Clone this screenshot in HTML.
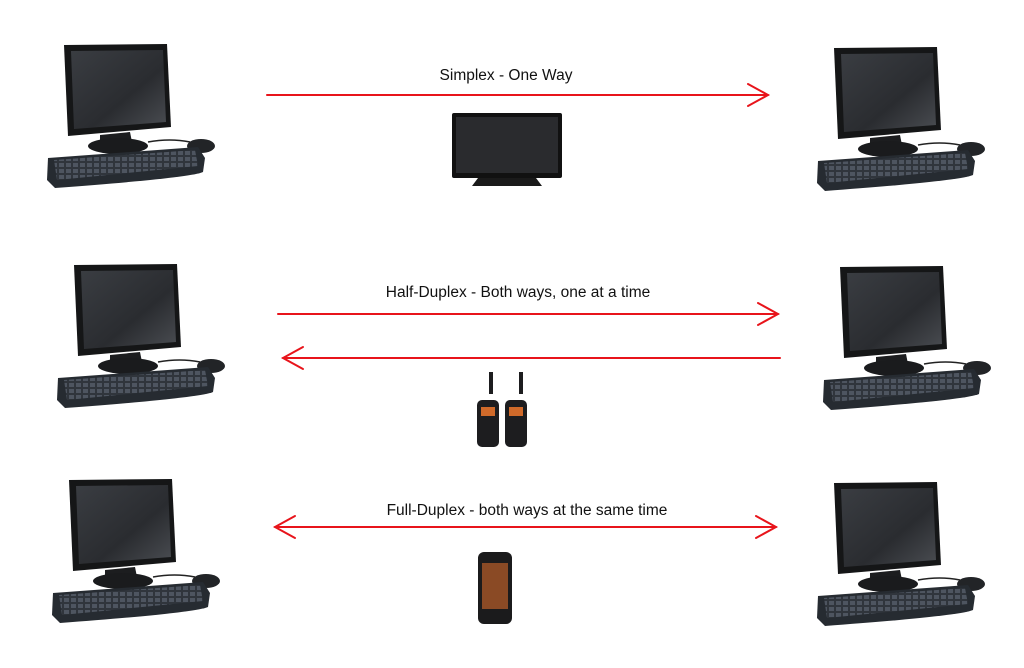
<!DOCTYPE html>
<html><head><meta charset="utf-8"><style>
html,body{margin:0;padding:0;background:#fff;}
svg{display:block;}
text{font-family:"Liberation Sans",sans-serif;font-size:15.5px;fill:#111;}
</style></head><body>
<svg width="1024" height="668" viewBox="0 0 1024 668" xmlns="http://www.w3.org/2000/svg">
<defs>
<linearGradient id="scr" x1="0" y1="0" x2="1" y2="1">
<stop offset="0" stop-color="#3a3d42"/><stop offset="0.6" stop-color="#2a2c30"/><stop offset="1" stop-color="#4a4d52"/>
</linearGradient>
<pattern id="keys" width="7" height="6" patternUnits="userSpaceOnUse">
<rect width="7" height="6" fill="#30353c"/><rect x="1" y="1" width="5" height="4" fill="#4e5560"/>
</pattern>
<g id="pc">
<path d="M34 15 L137 14 L141 97 L38 106 Z" fill="#151617"/>
<path d="M41 21 L133 20 L136 92 L44 99 Z" fill="url(#scr)"/>
<path d="M70 105 L100 102 L102 112 L70 114 Z" fill="#1c1d1f"/>
<ellipse cx="88" cy="116" rx="30" ry="8" fill="#1a1b1d"/>
<path d="M118 112 Q140 108 160 112" stroke="#222" stroke-width="1.5" fill="none"/>
<ellipse cx="171" cy="116" rx="14" ry="7" fill="#222427"/>
<path d="M18 128 L168 117 L175 128 L173 142 Q160 148 25 158 L17 150 Z" fill="#262b31"/>
<path d="M24 130 L165 120 L168 136 L27 150 Z" fill="url(#keys)"/>
</g>
</defs>

<use href="#pc" x="30" y="30"/>
<use href="#pc" x="800" y="33"/>
<use href="#pc" x="40" y="250"/>
<use href="#pc" x="806" y="252"/>
<use href="#pc" x="35" y="465"/>
<use href="#pc" x="800" y="468"/>

<g stroke="#e8141b" stroke-width="2" fill="none" stroke-linecap="round">
<line x1="267" y1="95" x2="768" y2="95"/><polyline points="748,84 768,95 748,106"/>
<line x1="278" y1="314" x2="778" y2="314"/><polyline points="758,303 778,314 758,325"/>
<line x1="780" y1="358" x2="283" y2="358"/><polyline points="303,347 283,358 303,369"/>
<line x1="275" y1="527" x2="776" y2="527"/><polyline points="756,516 776,527 756,538"/><polyline points="295,516 275,527 295,538"/>
</g>

<text x="506" y="80" text-anchor="middle">Simplex - One Way</text>
<text x="518" y="297" text-anchor="middle">Half-Duplex - Both ways, one at a time</text>
<text x="527" y="515" text-anchor="middle">Full-Duplex - both ways at the same time</text>

<rect x="452" y="113" width="110" height="65" rx="2" fill="#111"/>
<rect x="456" y="117" width="102" height="56" fill="#2a2b2e"/>
<path d="M478 178 L536 178 L542 186 L472 186 Z" fill="#1a1a1a"/>

<g fill="#1d1d1f">
<rect x="489" y="372" width="4" height="22"/>
<rect x="477" y="400" width="22" height="47" rx="5"/>
<rect x="519" y="372" width="4" height="22"/>
<rect x="505" y="400" width="22" height="47" rx="5"/>
</g>
<rect x="481" y="407" width="14" height="9" fill="#d06a2a"/>
<rect x="509" y="407" width="14" height="9" fill="#d06a2a"/>

<rect x="478" y="552" width="34" height="72" rx="6" fill="#1b1b1c"/>
<rect x="482" y="563" width="26" height="46" fill="#8a4a25"/>
</svg>
</body></html>
